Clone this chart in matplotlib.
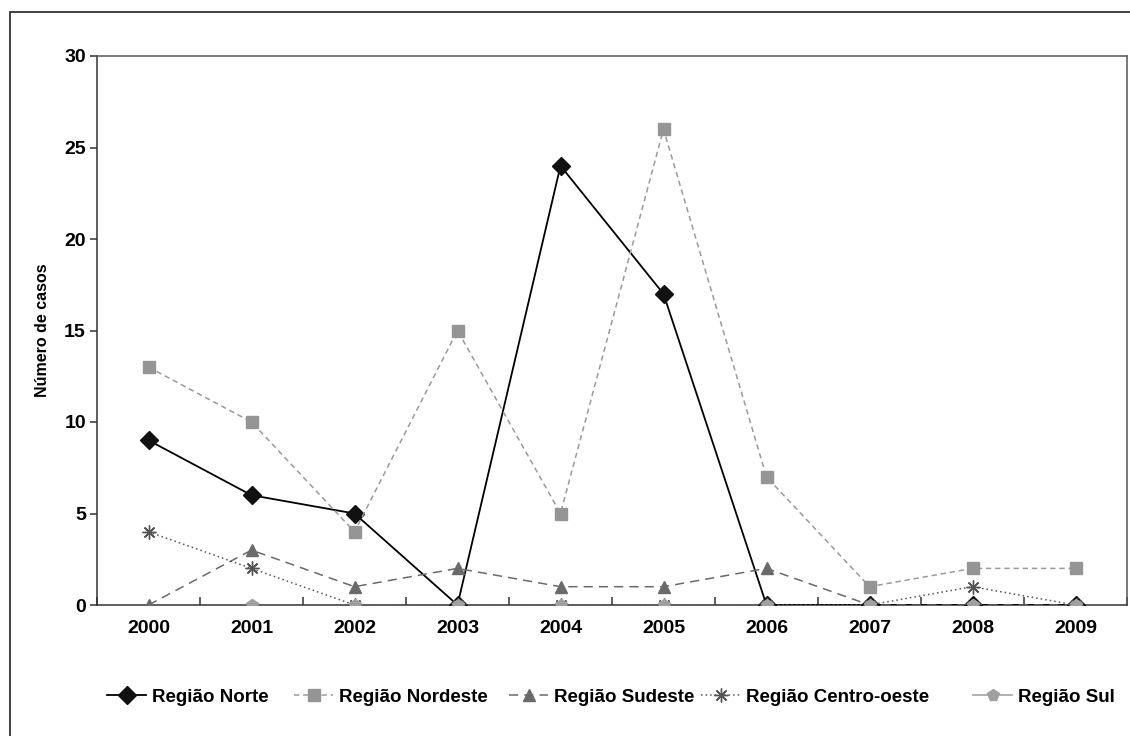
import matplotlib.pyplot as plt
from matplotlib.patches import Rectangle

plt.rcParams['font.family'] = ['Liberation Sans', 'DejaVu Sans']
plt.rcParams['font.weight'] = 'bold'

anos = ["2000", "2001", "2002", "2003", "2004", "2005", "2006", "2007", "2008", "2009"]
norte = [9, 6, 5, 0, 24, 17, 0, 0, 0, 0]
nordeste = [13, 10, 4, 15, 5, 26, 7, 1, 2, 2]
sudeste = [0, 3, 1, 2, 1, 1, 2, 0, 0, 0]
centro_oeste = [4, 2, 0, 0, 0, 0, 0, 0, 1, 0]
sul = [None, 0, 0, 0, 0, 0, 0, 0, 0, 0]
regioes = ["Região Norte", "Região Nordeste", "Região Sudeste", "Região Centro-oeste", "Região Sul"]

x = list(range(len(anos)))

fig = plt.figure(figsize=(11.3, 7.36), dpi=100)
ax = fig.add_axes([97 / 1130, 1 - 605 / 736, 1030 / 1130, 549 / 736])

# moldura externa
fig.patches.append(Rectangle((10 / 1130, -0.1), 1.2, 1 - 12 / 736 + 0.1,
                             transform=fig.transFigure, fill=False,
                             edgecolor="#333333", lw=1.3))

l1, = ax.plot(x, norte, color="black", lw=1.3, marker="D", ms=9.5,
              mfc="#111111", mec="#111111", zorder=3)
l2, = ax.plot(x, nordeste, color="#9a9a9a", lw=1.1, ls=(0, (3.5, 2.5)), marker="s", ms=8.5,
              mfc="#959595", mec="#959595", zorder=3)
l3, = ax.plot(x, sudeste, color="#6a6a6a", lw=1.1, ls=(0, (6, 4)), marker="^", ms=8.5,
              mfc="#6a6a6a", mec="#6a6a6a", zorder=3)
l4, = ax.plot(x, centro_oeste, color="#555555", lw=1.1, ls=(0, (1, 2)), marker=(8, 2, 0), ms=10,
              mec="#555555", mew=1.0, zorder=3)
sul_x = [i for i, v in zip(x, sul) if v is not None]
sul_y = [v for v in sul if v is not None]
ax.plot(sul_x, sul_y, ls="none", marker="p", ms=8.5,
        mfc="#a0a0a0", mec="#a0a0a0", zorder=3)
l5 = plt.Line2D([], [], color="#aaaaaa", lw=1.3, marker="p", ms=8.5,
                mfc="#a0a0a0", mec="#a0a0a0")

ax.set_xlim(-0.5, 9.5)
ax.set_ylim(0, 30)
ax.set_yticks(range(0, 31, 5))
ax.set_xticks([i - 0.5 for i in range(11)])
ax.set_xticklabels([])
ax.set_xticks(x, minor=True)
ax.set_xticklabels(anos, minor=True)
ax.tick_params(axis="x", which="major", length=6, width=1.1, color="#333333", direction="in")
ax.tick_params(axis="x", which="minor", length=0, pad=11, labelsize=14)
ax.tick_params(axis="y", length=5, width=1.1, color="#333333", labelsize=14, pad=3)

ax.set_yticks(range(5, 30, 5), minor=True)
ax.tick_params(axis="y", which="minor", length=0)
ax.grid(axis="y", which="minor", color="#aaaaaa", ls=(0, (3, 3)), lw=0.8)
ax.set_axisbelow(True)
for s in ax.spines.values():
    s.set_color("#333333")
    s.set_linewidth(1.1)
ax.spines["top"].set_color("#555555")
ax.spines["right"].set_color("#555555")

ax.set_ylabel("Número de casos", fontsize=11.5, fontweight="bold", labelpad=10)

# legenda, uma entrada por vez
leg_x = [107, 294, 509, 701, 973]
for h, lab, xs in zip([l1, l2, l3, l4, l5], regioes, leg_x):
    fig.legend([h], [lab], loc="center left", bbox_to_anchor=(xs / 1130, 1 - 697 / 736),
               frameon=False, fontsize=13.5, handlelength=2.1, handletextpad=0.3,
               borderpad=0, borderaxespad=0)

fig.savefig("out.png", dpi=100)
